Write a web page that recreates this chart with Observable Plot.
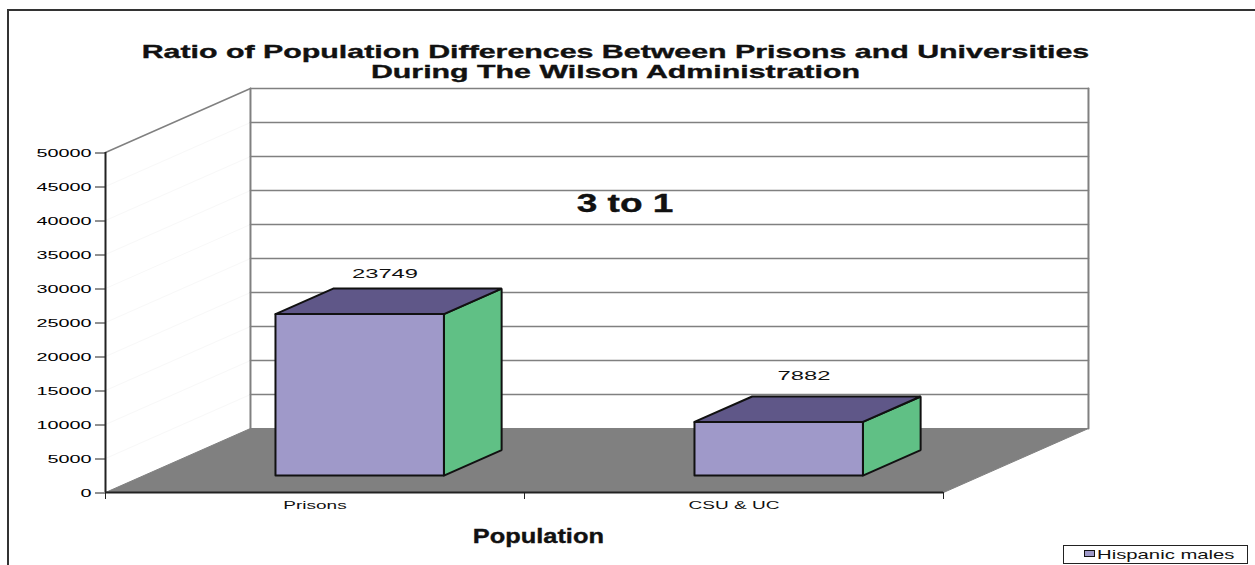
<!DOCTYPE html>
<html>
<head>
<meta charset="utf-8">
<script src="https://cdn.jsdelivr.net/npm/d3@7"></script>
<script src="https://cdn.jsdelivr.net/npm/@observablehq/plot@0.6"></script>
<style>
html,body{margin:0;padding:0;background:#fff;overflow:hidden}
#wrap{position:relative;width:1255px;height:565px;font-family:"Liberation Sans",Arial,sans-serif}
#frame{position:absolute;left:7px;top:9px;right:0;bottom:0;border-left:2px solid #333;border-top:2px solid #333}
#chart{position:absolute;left:0;top:0}
#legend{position:absolute;left:1063px;top:545px;width:183px;height:17px;border:1px solid #222;background:#fff}
#swatch{position:absolute;left:20px;top:4px;width:9px;height:5px;background:#9f99c9;border:1.5px solid #111}
#ltext{position:absolute;left:33px;top:0;font-size:13px;line-height:17px;color:#111;transform-origin:left center;transform:scaleX(1.56);white-space:nowrap}
.heavy{stroke:#111;stroke-width:.35px}
</style>
</head>
<body>
<div id="wrap"><div id="frame"></div><div id="chart"></div>
<div id="legend"><div id="swatch"></div><div id="ltext"></div></div></div>
<script>
const titleLines = ["Ratio of Population Differences Between Prisons and Universities", "During The Wilson Administration"];
const categories = ["Prisons", "CSU & UC"];
const values = [23749, 7882];
const yTicks = [0, 5000, 10000, 15000, 20000, 25000, 30000, 35000, 40000, 45000, 50000];
const seriesName = "Hispanic males";
const annotation = "3 to 1";
const xTitle = "Population";

// Oblique 3D projection expressed in data units: category steps along x, values along y
const DEPTH_X = 0.346, DEPTH_Y = 9412;
const BAR_LEFT = 0.314, BAR_RIGHT = 0.716, BAR_NEAR = 0.265, BAR_FAR = 0.663;
const P = (x, v, d = 0) => ({x: x + d * DEPTH_X, y: v + d * DEPTH_Y});
const XMAX = categories.length, YMAX = 50000;

const face = (pts, fill, stroke, strokeWidth = 2) =>
  Plot.line([...pts, pts[0]], {x: "x", y: "y", fill, stroke, strokeWidth, strokeLinejoin: "miter"});

const COL_FRONT = "#9f99c9", COL_TOP = "#5f5788", COL_SIDE = "#60c085", COL_FLOOR = "#808080", COL_GRID = "#808080", INK = "#111";

const marks = [];
// side wall faint lines
for (const v of yTicks.slice(1, -1)) marks.push(Plot.line([P(0, v, 0), P(0, v, 1)], {x: "x", y: "y", stroke: "#f8f8f8", strokeWidth: 1}));
// back wall gridlines
for (const v of yTicks.slice(1)) marks.push(Plot.line([P(0, v, 1), P(XMAX, v, 1)], {x: "x", y: "y", stroke: COL_GRID, strokeWidth: 1.5}));
// back wall borders
marks.push(Plot.line([P(0, 0, 1), P(0, YMAX, 1)], {x: "x", y: "y", stroke: COL_GRID, strokeWidth: 2}));
marks.push(Plot.line([P(XMAX, 0, 1), P(XMAX, YMAX, 1)], {x: "x", y: "y", stroke: COL_GRID, strokeWidth: 2}));
marks.push(Plot.line([P(0, YMAX, 0), P(0, YMAX, 1)], {x: "x", y: "y", stroke: COL_GRID, strokeWidth: 1.5}));
// floor
marks.push(face([P(0, 0, 0), P(0, 0, 1), P(XMAX, 0, 1), P(XMAX, 0, 0)], COL_FLOOR, COL_FLOOR, 1));
// bars
values.forEach((v, i) => {
  const l = i + BAR_LEFT, r = i + BAR_RIGHT;
  marks.push(face([P(r, 0, BAR_NEAR), P(r, 0, BAR_FAR), P(r, v, BAR_FAR), P(r, v, BAR_NEAR)], COL_SIDE, INK));
  marks.push(face([P(l, v, BAR_NEAR), P(l, v, BAR_FAR), P(r, v, BAR_FAR), P(r, v, BAR_NEAR)], COL_TOP, INK));
  marks.push(face([P(l, 0, BAR_NEAR), P(r, 0, BAR_NEAR), P(r, v, BAR_NEAR), P(l, v, BAR_NEAR)], COL_FRONT, INK));
});
// axes
marks.push(Plot.axisY({ticks: yTicks, tickSize: 10, tickPadding: 4, label: null, fontSize: 11, stroke: "#222", dy: 0.5, tickFormat: d => String(d)}));
marks.push(Plot.ruleX([0], {y1: 0, y2: YMAX, stroke: "#222", strokeWidth: 2}));
marks.push(Plot.ruleY([0], {x1: 0, x2: XMAX, stroke: "#222", strokeWidth: 2}));
marks.push(Plot.axisX({ticks: [0, 1, 2], tickSize: 7, tickFormat: () => "", label: null, stroke: "#222"}));
marks.push(Plot.axisX({ticks: [0.5, 1.5], tickSize: 0, tickPadding: 9, label: null, fontSize: 10, fill: "#111", tickFormat: d => categories[Math.floor(d)]}));
// value labels
const labelX = [0.667, 1.667], labelY = [32200, 17200];
marks.push(Plot.text(values, {x: (d, i) => labelX[i], y: (d, i) => labelY[i], text: d => String(d), fontSize: 12.5, fill: "#111"}));
// annotation and titles
marks.push(Plot.text([annotation], {x: [1.24], y: [42500], text: d => d, fontSize: 25, fontWeight: "bold", fill: "#111"}));
marks.push(Plot.text([xTitle], {x: [1.033], y: [-6500], text: d => d, fontSize: 20, fontWeight: "bold", fill: "#111"}));
marks.push(Plot.text(titleLines, {x: [1.217, 1.217], y: [64700, 61800], text: d => d, fontSize: 18.5, fontWeight: "bold", fill: "#111"}));

const plot = Plot.plot({
  width: 1255, height: 565,
  marginLeft: 105, marginRight: 312, marginTop: 152, marginBottom: 73,
  style: {background: "transparent", fontFamily: "'Liberation Sans', Arial, sans-serif", overflow: "visible"},
  x: {domain: [0, XMAX], axis: null},
  y: {domain: [0, YMAX], axis: null},
  marks
});
document.getElementById("chart").appendChild(plot);
document.getElementById("ltext").textContent = seriesName;

// the reference's text is horizontally stretched
const stretchBySize = {"18.5": 1.64, "20": 1.27, "25": 1.48, "12.5": 1.9, "11": 1.8, "10": 1.9};
plot.querySelectorAll("text").forEach(t => {
  const s = parseFloat(getComputedStyle(t).fontSize);
  const k = stretchBySize[String(s)];
  if (k && t.textContent) {
    t.setAttribute("textLength", t.getComputedTextLength() * k);
    t.setAttribute("lengthAdjust", "spacingAndGlyphs");
    if (s >= 18) t.setAttribute("class", "heavy");
  }
});
</script>
</body>
</html>
